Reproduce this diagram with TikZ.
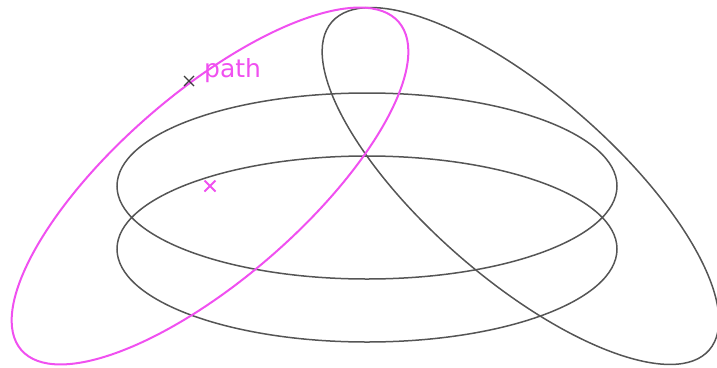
\documentclass[tikz,border=0pt]{standalone}
\usepackage{fontspec}
\setmainfont{DejaVu Sans}
\usetikzlibrary{calc}
\definecolor{ringgray}{HTML}{555555}
\definecolor{pathmag}{HTML}{F050F0}
\begin{document}
\begin{tikzpicture}[x=1pt,y=-1pt,
  ring/.style={draw=ringgray,line width=1.5pt},
  magring/.style={draw=pathmag,line width=2pt},
  xmark/.style={line width=1.4pt}]
\useasboundingbox (0,0) rectangle (717,367);
\coordinate (c1) at (367,186);
\coordinate (c2) at (367,249);
\coordinate (cm) at (210,186);
\coordinate (cg) at (520.5,186);
\coordinate (pm) at (189,81);
\draw[ring] (c1) ellipse [x radius=250, y radius=93];
\draw[ring] (c2) ellipse [x radius=250, y radius=93];
\draw[ring] (cg) ellipse [x radius=250, y radius=93, rotate=-41];
\draw[magring] (cm) ellipse [x radius=250, y radius=93, rotate=41];
\draw[xmark,draw=ringgray!70!black] ($(pm)+(-5,-5)$) -- ($(pm)+(5,5)$) ($(pm)+(-5,5)$) -- ($(pm)+(5,-5)$);
\draw[xmark,draw=pathmag,line width=2pt] ($(cm)+(-5.5,-5.5)$) -- ($(cm)+(5.5,5.5)$) ($(cm)+(-5.5,5.5)$) -- ($(cm)+(5.5,-5.5)$);
\node[anchor=base west,inner sep=0pt,text=pathmag,font=\fontsize{25}{30}\selectfont] (lbl) at (204,77) {path};
\end{tikzpicture}
\end{document}
